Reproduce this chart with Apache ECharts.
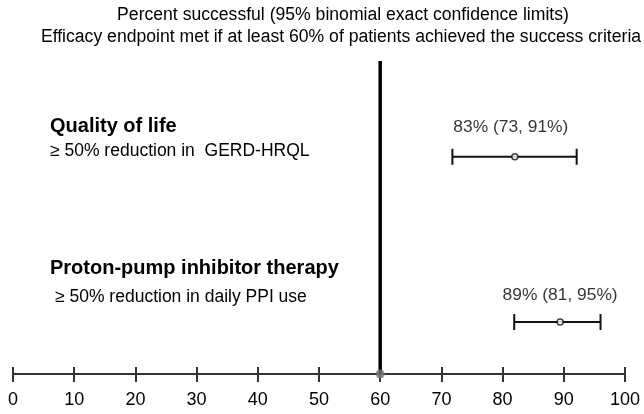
<!DOCTYPE html>
<html>
<head>
<meta charset="utf-8">
<script src="https://cdn.jsdelivr.net/npm/echarts@6/dist/echarts.min.js"></script>
<style>html,body{margin:0;padding:0;background:#fff}#c{width:644px;height:414px}</style>
</head>
<body>
<div id="c"></div>
<script>
// ---- data ----
var titleLines = ["Percent successful (95% binomial exact confidence limits)",
                  "Efficacy endpoint met if at least 60% of patients achieved the success criteria"];
var outcomeNames = ["Quality of life", "Proton-pump inhibitor therapy"];
var outcomeDescs = ["\u2265 50% reduction in  GERD-HRQL", "\u2265 50% reduction in daily PPI use"];
var outcomeLabels = ["83% (73, 91%)", "89% (81, 95%)"];
var pointValues = [82, 89.4];
var lowerValues = [71.8, 81.9];
var upperValues = [92.1, 96.0];
var rowPositions = [6.94, 1.66];
var thresholdValue = 60;
var xTicks = [0, 10, 20, 30, 40, 50, 60, 70, 80, 90, 100];

var FONT = "'Liberation Sans', Arial, sans-serif";
var chart = echarts.init(document.getElementById('c'), null, {renderer: 'canvas'});

var errData = pointValues.map(function (p, i) { return [lowerValues[i], upperValues[i], rowPositions[i]]; });
var ptData = pointValues.map(function (p, i) {
  return { value: [p, rowPositions[i]],
    label: { formatter: outcomeLabels[i], distance: i === 0 ? 17 : 15, offset: i === 0 ? [-4, 0] : [0, 0] } };
});

function txt(x, y, s, font, align) {
  return { type: 'text', x: x, y: y, silent: true,
    style: { text: s, font: font, fill: '#000', align: align || 'left', verticalAlign: 'middle' } };
}

var option = {
  animation: false,
  backgroundColor: '#fff',
  grid: { left: 13, right: 19, top: 61, bottom: 40 },
  xAxis: [{
    type: 'value', min: 0, max: 100, interval: 10,
    axisLine: { show: true, lineStyle: { color: '#333', width: 2 } },
    axisTick: { show: true, inside: false, length: 8, lineStyle: { color: '#333', width: 2 } },
    axisLabel: { show: true, margin: 17, fontSize: 18, color: '#000', fontFamily: FONT,
      formatter: function (v) { return xTicks.indexOf(v) >= 0 ? String(v) : ''; } },
    splitLine: { show: false }
  }, {
    type: 'value', min: 0, max: 100, interval: 10, position: 'bottom',
    axisLine: { show: false },
    axisTick: { show: true, inside: true, length: 7, lineStyle: { color: '#333', width: 2 } },
    axisLabel: { show: false },
    splitLine: { show: false }
  }],
  yAxis: { type: 'value', min: 0, max: 10, show: false },
  graphic: [
    txt(343, 15.2, titleLines[0], '17.6px ' + FONT, 'center'),
    txt(341, 37.5, titleLines[1], '17.6px ' + FONT, 'center'),
    txt(50, 126.7, outcomeNames[0], 'bold 20px ' + FONT),
    txt(50, 150.9, outcomeDescs[0], '17.5px ' + FONT),
    txt(50, 268.4, outcomeNames[1], 'bold 20px ' + FONT),
    txt(55, 296.9, outcomeDescs[1], '17.5px ' + FONT)
  ],
  series: [
    {
      type: 'line', xAxisIndex: 0, data: [[thresholdValue, 0], [thresholdValue, 10]],
      symbol: 'none', lineStyle: { color: '#000', width: 3.5 }, z: 2, silent: true
    },
    {
      type: 'scatter', xAxisIndex: 0, data: [[thresholdValue, 0]], symbol: 'circle', symbolSize: 9,
      itemStyle: { color: '#777' }, z: 4, silent: true
    },
    {
      type: 'custom', xAxisIndex: 0, data: errData, z: 3, silent: true,
      renderItem: function (params, api) {
        var lo = api.coord([api.value(0), api.value(2)]);
        var hi = api.coord([api.value(1), api.value(2)]);
        var cap = 8;
        var st = { stroke: '#111', lineWidth: 2 };
        return {
          type: 'group',
          children: [
            { type: 'line', shape: { x1: lo[0], y1: lo[1], x2: hi[0], y2: hi[1] }, style: st },
            { type: 'line', shape: { x1: lo[0], y1: lo[1] - cap, x2: lo[0], y2: lo[1] + cap }, style: st },
            { type: 'line', shape: { x1: hi[0], y1: hi[1] - cap, x2: hi[0], y2: hi[1] + cap }, style: st }
          ]
        };
      }
    },
    {
      type: 'scatter', xAxisIndex: 0, data: ptData, symbol: 'circle', symbolSize: 6, z: 5, silent: true,
      itemStyle: { color: '#fff', borderColor: '#111', borderWidth: 1.5 },
      label: { show: true, position: 'top', fontSize: 17.4, color: '#000', fontFamily: FONT }
    }
  ]
};
chart.setOption(option);
</script>
</body>
</html>
